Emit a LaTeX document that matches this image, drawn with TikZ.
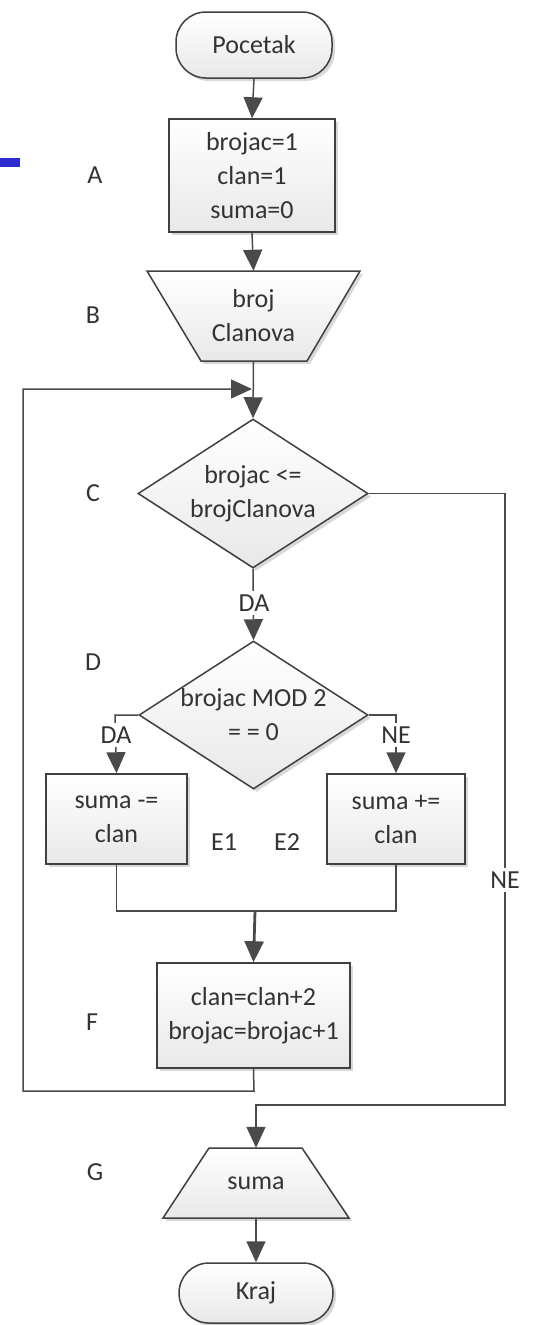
\documentclass[tikz,border=0pt]{standalone}
\usepackage{fontspec}
\setmainfont{Carlito}
\usetikzlibrary{arrows.meta,shadows,shapes.geometric}
\definecolor{edgec}{HTML}{404040}
\definecolor{linec}{HTML}{4A4A4A}
\definecolor{txtc}{HTML}{333333}
\definecolor{barblue}{HTML}{2B2BD0}
\begin{document}
\begin{tikzpicture}[x=1pt,y=-1pt,
  every node/.style={font=\fontsize{26}{34}\selectfont, text=txtc},
  shade box/.style={draw=edgec, line width=1.5pt, top color=white, bottom color=black!9,
     drop shadow={shadow xshift=3pt,shadow yshift=-3pt,fill=black!30,opacity=0.5}},
  box/.style={shade box, rectangle, inner sep=0pt, align=center},
  term/.style={box, rounded corners=30pt},
  dia/.style={shade box, diamond, inner sep=0pt},
  txt/.style={inner sep=0pt, align=center},
  conn/.style={draw=linec, line width=1.5pt},
  arr/.style={conn, -{Triangle[length=21pt,width=19pt]}},
  lbl/.style={fill=white, inner sep=4pt}
]
\useasboundingbox (0,0) rectangle (557,1325);
\fill[white] (0,0) rectangle (557,1325);
\fill[barblue] (0,158) rectangle (20,167);

% shapes
\node[term, minimum width=156pt, minimum height=66pt] (P) at (254,45) {Pocetak};
\node[box, minimum width=166pt, minimum height=113pt] (A) at (252,175.5) {brojac=1\\clan=1\\suma=0};

\path[shade box] (147,271) -- (360,271) -- (307,361) -- (201,361) -- cycle;
\node[txt, minimum width=213pt, minimum height=90pt] (B) at (253.5,316) {broj\\Clanova};

\node[dia, minimum width=230pt, minimum height=149pt] (C) at (253,493.5) {};
\node[txt] (Ct) at (C) {brojac <=\\brojClanova};

\node[dia, minimum width=229pt, minimum height=148pt] (D) at (253.5,715) {};
\node[txt] (Dt) at (D) {brojac MOD 2\\= = 0};

\node[box, minimum width=141pt, minimum height=90pt] (E1) at (116.5,819) {suma -=\\clan};
\node[box, minimum width=138pt, minimum height=90pt] (E2) at (396,819) {suma +=\\clan};

\node[box, minimum width=193pt, minimum height=105pt] (F) at (253.5,1015.5) {clan=clan+2\\brojac=brojac+1};

\path[shade box] (209,1148) -- (302,1148) -- (349,1218) -- (163,1218) -- cycle;
\node[txt, minimum width=186pt, minimum height=70pt] (G) at (256,1183) {suma};

\node[term, minimum width=154pt, minimum height=60pt] (K) at (256,1293) {Kraj};

% side labels
\node (lA) at (95,175) {A};
\node (lB) at (93,315) {B};
\node (lC) at (93,493) {C};
\node (lD) at (93,662) {D};
\node (lE1) at (224,842) {E1};
\node (lE2) at (287,842) {E2};
\node (lF) at (92,1022) {F};
\node (lG) at (95,1172) {G};

% coordinates
\coordinate (lj) at (252,389);
\coordinate (fl) at (254,1091);
\coordinate (ll) at (23,1091);
\coordinate (lu) at (23,389);
\coordinate (cr) at (505,493.5);
\coordinate (cb) at (505,1105);
\coordinate (gt) at (256,1105);
\coordinate (dl) at (115,715);
\coordinate (dr) at (396,715);
\coordinate (mg) at (255,911);

% connectors
\draw[arr] (P.south) -- (A.north);
\draw[arr] (A.south) -- (B.north);
\draw[arr] (B.south) -- (C.north);
\draw[arr] (F.south) -- (fl) -- (ll) -- (lu) -- (lj);
\draw[arr] (C.east) -- (cr) -- (cb) -- (gt) -- (G.north);
\draw[arr] (C.south) -- (D.north);
\draw[arr] (D.west) -- (dl) -- (E1.north);
\draw[arr] (D.east) -- (dr) -- (E2.north);
\draw[conn] (E1.south) -- (E1.south |- mg) -- (E2.south |- mg) -- (E2.south);
\draw[arr, line width=2.8pt] (mg) -- (F.north);
\draw[arr] (G.south) -- (K.north);

% connector labels
\node[lbl] (yC) at (254,603) {DA};
\node[lbl] (nC) at (505,880) {NE};
\node[lbl] (yD) at (116,735) {DA};
\node[lbl] (nD) at (396,735) {NE};
\end{tikzpicture}
\end{document}
